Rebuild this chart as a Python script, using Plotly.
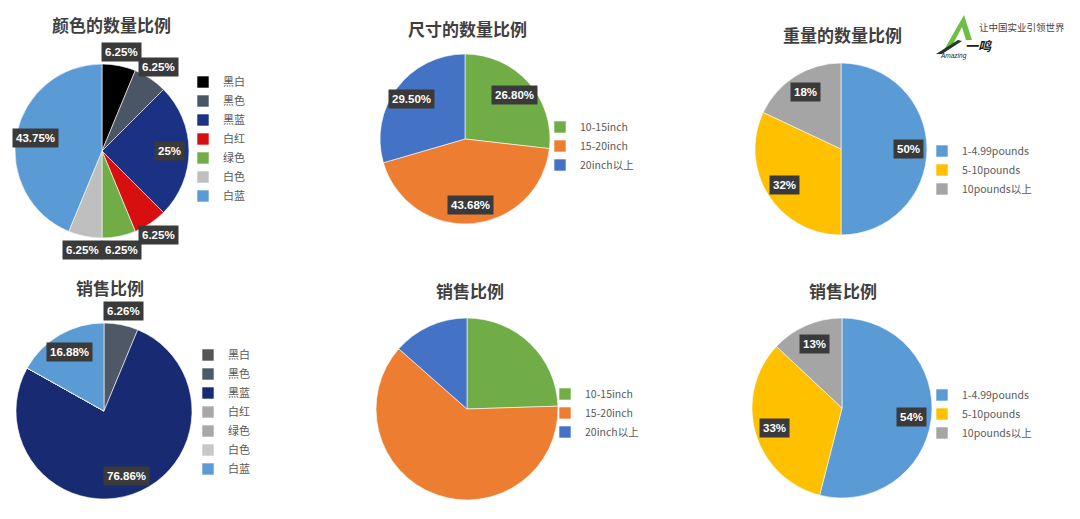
import math
import plotly.graph_objects as go

# ---------------- data ----------------
color_labels = ["黑白", "黑色", "黑蓝", "白红", "绿色", "白色", "白蓝"]
color_qty = [6.25, 6.25, 25, 6.25, 6.25, 6.25, 43.75]
color_qty_text = ["6.25%", "6.25%", "25%", "6.25%", "6.25%", "6.25%", "43.75%"]
color_sales = [0, 6.26, 76.86, 0, 0, 0, 16.88]
color_sales_text = ["", "6.26%", "76.86%", "", "", "", "16.88%"]

size_labels = ["10-15inch", "15-20inch", "20inch以上"]
size_qty = [26.80, 43.68, 29.50]
size_qty_text = ["26.80%", "43.68%", "29.50%"]
size_sales = [24.5, 62.0, 13.5]
size_sales_text = ["", "", ""]

weight_labels = ["1-4.99pounds", "5-10pounds", "10pounds以上"]
weight_qty = [50, 32, 18]
weight_qty_text = ["50%", "32%", "18%"]
weight_sales = [54, 33, 13]
weight_sales_text = ["54%", "33%", "13%"]

titles = ["颜色的数量比例", "尺寸的数量比例", "重量的数量比例", "销售比例", "销售比例", "销售比例"]

# ---------------- style ----------------
W, H = 1080, 519
CJK = "Noto Sans CJK SC"

colors_color_qty = ["#000000", "#4A5666", "#1B3183", "#D80F0F", "#70AD47", "#BFBFBF", "#5B9BD5"]
colors_color_sales = ["#555555", "#4E5866", "#172A72", "#A8A8A8", "#A8A8A8", "#C8C8C8", "#5B9BD5"]
colors_size = ["#70AD47", "#ED7D31", "#4472C4"]
colors_weight = ["#5B9BD5", "#FFC000", "#A5A5A5"]


def px(x):
    return x / W


def py(y):
    return 1 - y / H


charts = [
    dict(labels=color_labels, values=color_qty, text=color_qty_text, colors=colors_color_qty,
         c=(102, 151), r=87, title_pos=(111, 25), leg=(223, 139), legfont=11),
    dict(labels=size_labels, values=size_qty, text=size_qty_text, colors=colors_size,
         c=(465, 139), r=85, title_pos=(467, 29), leg=(580, 146), legfont=10.5),
    dict(labels=weight_labels, values=weight_qty, text=weight_qty_text, colors=colors_weight,
         c=(841, 149), r=86, title_pos=(842, 35), leg=(962, 170), legfont=10.5),
    dict(labels=color_labels, values=color_sales, text=color_sales_text, colors=colors_color_sales,
         c=(104, 411), r=88, title_pos=(110, 288), leg=(228, 412), legfont=11),
    dict(labels=size_labels, values=size_sales, text=size_sales_text, colors=colors_size,
         c=(467, 409), r=91, title_pos=(470, 290), leg=(585, 413), legfont=10.5),
    dict(labels=weight_labels, values=weight_sales, text=weight_sales_text, colors=colors_weight,
         c=(842, 408), r=90, title_pos=(843, 290), leg=(962, 414), legfont=10.5),
]

fig = go.Figure()
annotations = []
layout_legends = {}

for i, ch in enumerate(charts):
    cx, cy = ch["c"]
    r = ch["r"]
    legname = "legend" if i == 0 else f"legend{i + 1}"
    fig.add_trace(go.Pie(
        labels=ch["labels"], values=ch["values"],
        marker=dict(colors=ch["colors"], line=dict(color="white", width=0.6)),
        sort=False, direction="clockwise", rotation=0,
        textinfo="none", hoverinfo="label+percent",
        domain=dict(x=[px(cx - r), px(cx + r)], y=[py(cy + r), py(cy - r)]),
        legend=legname, legendgroup=f"g{i}", showlegend=True,
    ))
    # data labels computed from the values
    total = sum(ch["values"])
    cum = 0.0
    for v, t in zip(ch["values"], ch["text"]):
        mid = (cum + v / 2) / total * 2 * math.pi
        cum += v
        if not t:
            continue
        f = 1.16 if v / total < 0.10 else 0.78
        lx = cx + f * r * math.sin(mid)
        ly = cy - f * r * math.cos(mid)
        annotations.append(dict(
            x=px(lx), y=py(ly), xref="paper", yref="paper", showarrow=False,
            xanchor="center", yanchor="middle",
            text=f"<b>{t}</b>", font=dict(color="white", size=11.5, family="Liberation Sans"),
            bgcolor="#3A3A3A", borderpad=3,
        ))
    # title
    tx, ty = ch["title_pos"]
    annotations.append(dict(
        x=px(tx), y=py(ty), xref="paper", yref="paper", showarrow=False,
        xanchor="center", yanchor="middle",
        text=f"<b>{titles[i]}</b>", font=dict(color="#3F3F3F", size=17, family=CJK),
    ))
    lx, ly = ch["leg"]
    layout_legends[legname] = dict(
        x=px(lx - 40), y=py(ly), xanchor="left", yanchor="middle",
        font=dict(size=ch["legfont"], color="#595959", family=CJK),
        bgcolor="rgba(0,0,0,0)", itemwidth=30, tracegroupgap=0,
    )

# logo (decorative)
annotations += [
    dict(x=px(1022), y=py(27), xref="paper", yref="paper", showarrow=False,
         xanchor="center", yanchor="middle",
         text="让中国实业引领世界", font=dict(size=9.5, color="#444444", family=CJK)),
    dict(x=px(979), y=py(45), xref="paper", yref="paper", showarrow=False,
         xanchor="center", yanchor="middle",
         text="<b><i>一鸣</i></b>", font=dict(size=13, color="#1A1A1A", family=CJK)),
    dict(x=px(953), y=py(56), xref="paper", yref="paper", showarrow=False,
         xanchor="center", yanchor="middle",
         text="<i>Amazing</i>", font=dict(size=6.5, color="#1A1A1A", family="Liberation Sans")),
]


def ppath(pts):
    return "M " + " L ".join(f"{px(x):.5f},{py(y):.5f}" for x, y in pts) + " Z"


shapes = [
    dict(type="path", xref="paper", yref="paper",
         path=ppath([(944, 50), (964, 15), (972, 40), (966, 40), (962, 27), (951, 48)]),
         fillcolor="#6DBE45", line=dict(width=0)),
    dict(type="path", xref="paper", yref="paper",
         path=ppath([(936, 54), (958, 40), (962, 41), (942, 54)]),
         fillcolor="#1E3A2A", line=dict(width=0)),
]

fig.update_layout(
    width=W, height=H,
    margin=dict(l=0, r=0, t=0, b=0),
    paper_bgcolor="white", plot_bgcolor="white",
    annotations=annotations, shapes=shapes,
    **layout_legends,
)

fig.write_html("out.html")
